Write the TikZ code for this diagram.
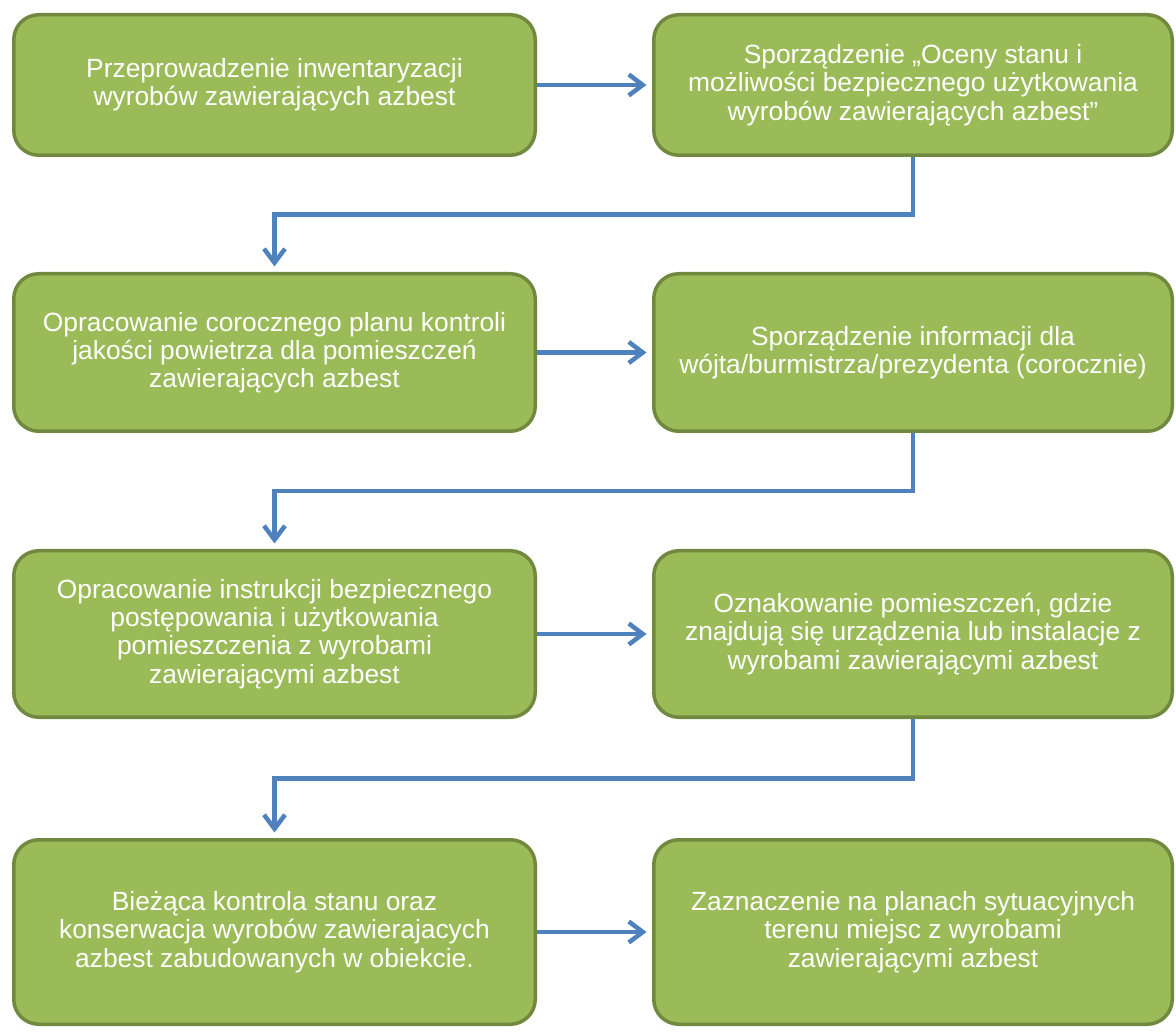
\documentclass[tikz,border=0pt]{standalone}
\usepackage{fontspec}
\setmainfont{Liberation Sans}
\usetikzlibrary{arrows.meta,calc}

\definecolor{stepfill}{HTML}{9BBB59}
\definecolor{stepline}{HTML}{71893F}
\definecolor{flowblue}{HTML}{4F81BD}

\begin{document}
\begin{tikzpicture}[
  stepbox/.style={draw=stepline, line width=0.07cm, fill=stepfill, rounded corners=0.5cm,
    text=white, align=center, font=\fontsize{15}{16.1}\selectfont, inner sep=0pt},
  leftbox/.style={stepbox, minimum width=10.43cm},
  rightbox/.style={stepbox, minimum width=10.37cm},
  flow/.style={draw=flowblue, line width=0.09cm,
    -{Straight Barb[length=0.28cm, width=0.42cm]}, shorten >=0.11cm}
]

\useasboundingbox (0, 0) rectangle (23.52, -20.68);

% first row
\node[leftbox, minimum height=2.81cm] (inw) at (5.49, -1.70)
  {Przeprowadzenie inwentaryzacji\\wyrobów zawierających azbest};
\node[rightbox, minimum height=2.81cm] (ocena) at (18.26, -1.70)
  {Sporządzenie „Oceny stanu i\\możliwości bezpiecznego użytkowania\\wyrobów zawierających azbest”};

% second row
\node[leftbox, minimum height=3.15cm] (plan) at (5.49, -7.05)
  {Opracowanie corocznego planu kontroli\\jakości powietrza dla pomieszczeń\\zawierających azbest};
\node[rightbox, minimum height=3.15cm] (info) at (18.26, -7.05)
  {Sporządzenie informacji dla\\wójta/burmistrza/prezydenta (corocznie)};

% third row
\node[leftbox, minimum height=3.33cm] (instr) at (5.49, -12.68)
  {Opracowanie instrukcji bezpiecznego\\postępowania i użytkowania\\pomieszczenia z wyrobami\\zawierającymi azbest};
\node[rightbox, minimum height=3.33cm] (oznak) at (18.26, -12.68)
  {Oznakowanie pomieszczeń, gdzie\\znajdują się urządzenia lub instalacje z\\wyrobami zawierającymi azbest};

% fourth row
\node[leftbox, minimum height=3.69cm] (kontr) at (5.49, -18.64)
  {Bieżąca kontrola stanu oraz\\konserwacja wyrobów zawierajacych\\azbest zabudowanych w obiekcie.};
\node[rightbox, minimum height=3.69cm] (plany) at (18.26, -18.64)
  {Zaznaczenie na planach sytuacyjnych\\terenu miejsc z wyrobami\\zawierającymi azbest};

% connectors
\draw[flow] (inw) -- (ocena);
\draw[flow] (plan) -- (info);
\draw[flow] (instr) -- (oznak);
\draw[flow] (kontr) -- (plany);

\draw[flow] (ocena.south) |- ($(ocena.south)!0.5!(plan.north)$) -| (plan.north);
\draw[flow] (info.south) |- ($(info.south)!0.5!(instr.north)$) -| (instr.north);
\draw[flow] (oznak.south) |- ($(oznak.south)!0.5!(kontr.north)$) -| (kontr.north);

\end{tikzpicture}
\end{document}
